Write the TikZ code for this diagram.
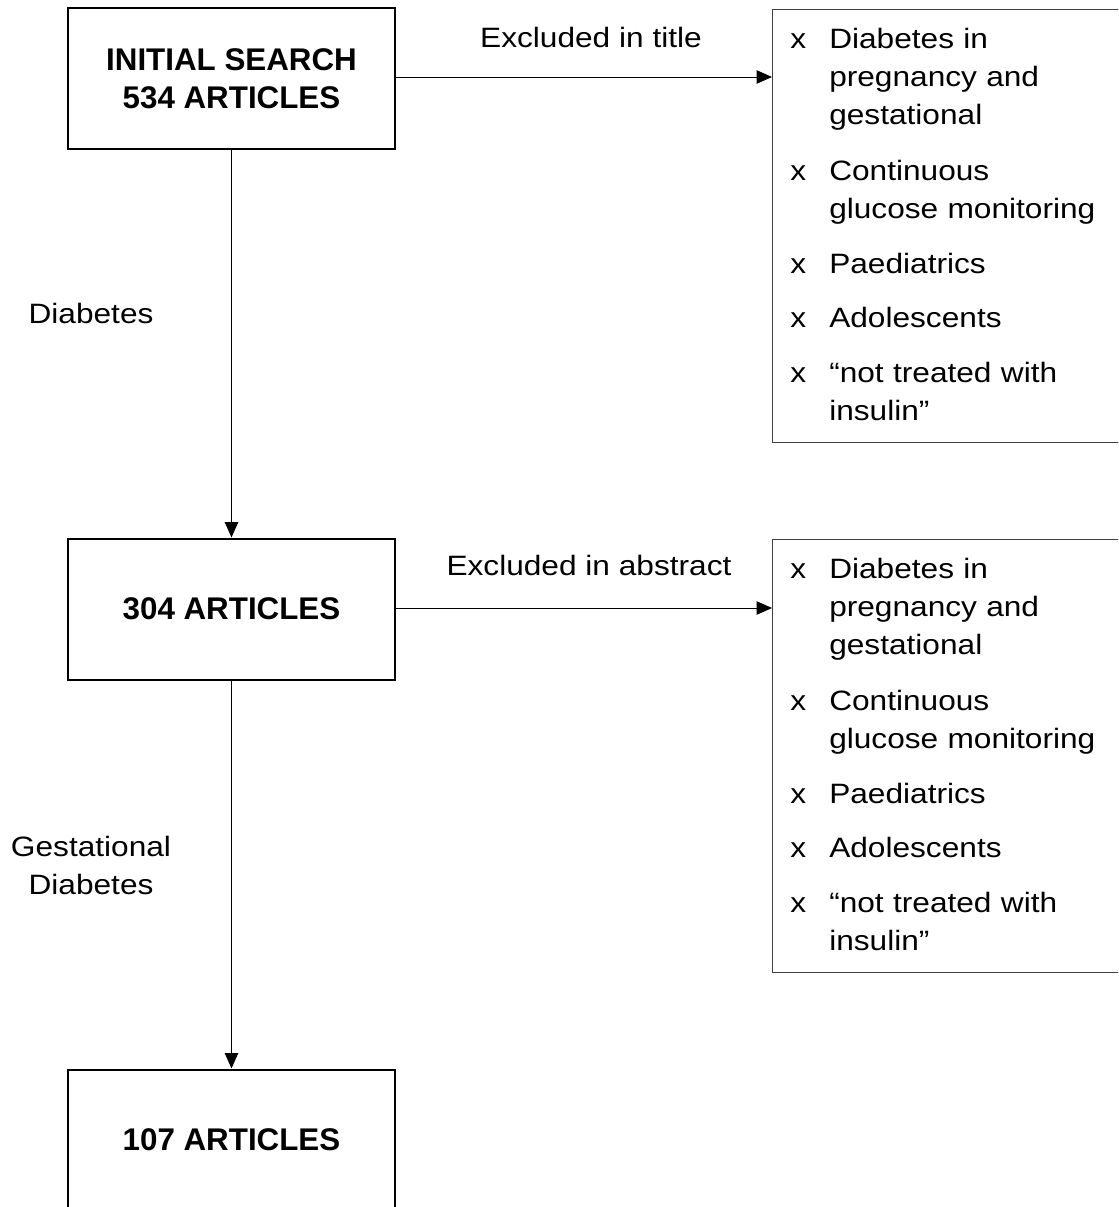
\documentclass[tikz,border=0pt]{standalone}
\usepackage{fontspec}
\setmainfont{Liberation Sans}
\newfontfamily\regfont[FakeStretch=1.13]{Liberation Sans}
\usetikzlibrary{arrows.meta}
\tikzset{
  mainbox/.style={draw=black, line width=1.5pt, minimum width=245.25pt, minimum height=105.75pt,
    inner sep=0pt, align=center, font=\bfseries\fontsize{23.5}{28.5}\selectfont},
  listbox/.style={draw=black!75, line width=0.75pt},
  reg/.style={inner sep=0pt, font=\regfont\fontsize{21}{28.5}\selectfont},
  itemtext/.style={reg, anchor=base west, align=left, text width=215pt},
  xmarker/.style={reg, anchor=base west},
  flow/.style={draw=black, line width=0.75pt, -{Triangle[length=11.5pt,width=10pt]}},
}
\begin{document}
\begin{tikzpicture}[x=0.75pt,y=-0.75pt]
\useasboundingbox (0,0) rectangle (1118,1207);
\clip (0,0) rectangle (1118,1207);
% main boxes
\node[mainbox] (init) at (231.5,78.5) {INITIAL SEARCH\\534 ARTICLES};
\node[mainbox] (mid) at (231.5,609) {304 ARTICLES};
\node[mainbox] (last) at (231.5,1140) {107 ARTICLES};
% exclusion list boxes
\draw[listbox] (772,9) rectangle (1130,442);
\draw[listbox] (772,539) rectangle (1130,972);
\coordinate (ex1) at (772,77);
\coordinate (ex2) at (772,608);
% connectors
\draw[flow] (init.south) -- (mid.north);
\draw[flow] (mid.south) -- (last.north);
\draw[flow] (init.east |- ex1) -- (ex1);
\draw[flow] (mid.east |- ex2) -- (ex2);
% labels
\node[reg, anchor=base] (lt) at (591,47) {Excluded in title};
\node[reg, anchor=base] (la) at (589,575) {Excluded in abstract};
\node[reg, anchor=base] (ld) at (91,323) {Diabetes};
\node[reg, anchor=base] (lg1) at (91,856) {Gestational};
\node[reg, anchor=base] (lg2) at (91,894) {Diabetes};
% lists
\foreach \off/\s in {0/a,530/b}{
  \node[xmarker] (m1\s) at (790,48+\off) {x};
  \node[itemtext] (i1\s) at (829,48+\off) {Diabetes in\\pregnancy and\\gestational};
  \node[xmarker] (m2\s) at (790,180+\off) {x};
  \node[itemtext] (i2\s) at (829,180+\off) {Continuous\\glucose monitoring};
  \node[xmarker] (m3\s) at (790,273+\off) {x};
  \node[itemtext] (i3\s) at (829,273+\off) {Paediatrics};
  \node[xmarker] (m4\s) at (790,327+\off) {x};
  \node[itemtext] (i4\s) at (829,327+\off) {Adolescents};
  \node[xmarker] (m5\s) at (790,382+\off) {x};
  \node[itemtext] (i5\s) at (829,382+\off) {“not treated with\\insulin”};
}
\end{tikzpicture}
\end{document}
